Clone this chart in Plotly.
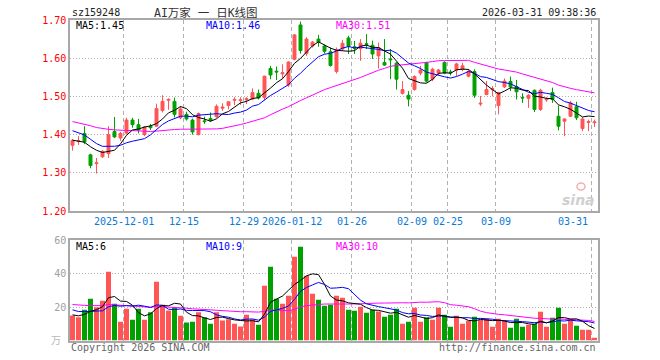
import plotly.graph_objects as go

# ---------------- data ----------------
dates = [
    "2025-11-18", "2025-11-19", "2025-11-20", "2025-11-21", "2025-11-24", "2025-11-25", "2025-11-26", "2025-11-27", "2025-11-28",
    "2025-12-01", "2025-12-02", "2025-12-03", "2025-12-04", "2025-12-05", "2025-12-08", "2025-12-09", "2025-12-10", "2025-12-11",
    "2025-12-12", "2025-12-15", "2025-12-16", "2025-12-17", "2025-12-18", "2025-12-19", "2025-12-22", "2025-12-23", "2025-12-24",
    "2025-12-25", "2025-12-26", "2025-12-29", "2025-12-30", "2025-12-31",
    "2026-01-05", "2026-01-06", "2026-01-07", "2026-01-08", "2026-01-09", "2026-01-12", "2026-01-13", "2026-01-14", "2026-01-15",
    "2026-01-16", "2026-01-19", "2026-01-20", "2026-01-21", "2026-01-22", "2026-01-23", "2026-01-26", "2026-01-27", "2026-01-28",
    "2026-01-29", "2026-01-30",
    "2026-02-02", "2026-02-03", "2026-02-04", "2026-02-05", "2026-02-06", "2026-02-09", "2026-02-10", "2026-02-11", "2026-02-12",
    "2026-02-13", "2026-02-24", "2026-02-25", "2026-02-26", "2026-02-27",
    "2026-03-02", "2026-03-03", "2026-03-04", "2026-03-05", "2026-03-06", "2026-03-09", "2026-03-10", "2026-03-11", "2026-03-12",
    "2026-03-13", "2026-03-16", "2026-03-17", "2026-03-18", "2026-03-19", "2026-03-20", "2026-03-23", "2026-03-24", "2026-03-25",
    "2026-03-26", "2026-03-27", "2026-03-30", "2026-03-31",
]

opens = [1.372, 1.382, 1.403, 1.347, 1.324, 1.342, 1.350, 1.408, 1.391, 1.404,
         1.438, 1.426, 1.400, 1.422, 1.422, 1.463, 1.490, 1.487, 1.444, 1.453,
         1.438, 1.400, 1.436, 1.442, 1.447, 1.469, 1.476, 1.490, 1.489, 1.491,
         1.493, 1.508, 1.497, 1.573, 1.566, 1.559, 1.530, 1.597, 1.687, 1.612,
         1.632, 1.650, 1.632, 1.617, 1.565, 1.624, 1.653, 1.630, 1.625, 1.638,
         1.634, 1.606, 1.589, 1.598, 1.587, 1.508, 1.503, 1.518, 1.561, 1.589,
         1.545, 1.561, 1.589, 1.564, 1.569, 1.571, 1.553, 1.565, 1.480, 1.505,
         1.518, 1.476, 1.525, 1.539, 1.526, 1.497, 1.495, 1.516, 1.466, 1.491,
         1.510, 1.448, 1.435, 1.448, 1.473, 1.416, 1.432, 1.431]
highs = [1.388, 1.396, 1.422, 1.350, 1.339, 1.360, 1.422, 1.446, 1.407, 1.444,
         1.444, 1.441, 1.422, 1.428, 1.481, 1.503, 1.495, 1.497, 1.475, 1.460,
         1.442, 1.458, 1.447, 1.458, 1.479, 1.482, 1.487, 1.498, 1.498, 1.498,
         1.521, 1.518, 1.554, 1.580, 1.578, 1.584, 1.592, 1.663, 1.696, 1.655,
         1.645, 1.661, 1.636, 1.628, 1.628, 1.648, 1.659, 1.645, 1.650, 1.663,
         1.646, 1.641, 1.650, 1.624, 1.590, 1.540, 1.514, 1.555, 1.580, 1.590,
         1.575, 1.572, 1.592, 1.570, 1.588, 1.588, 1.571, 1.571, 1.501, 1.540,
         1.527, 1.512, 1.547, 1.552, 1.543, 1.508, 1.506, 1.518, 1.520, 1.498,
         1.523, 1.476, 1.442, 1.488, 1.486, 1.446, 1.439, 1.439]
lows = [1.358, 1.373, 1.375, 1.312, 1.298, 1.339, 1.339, 1.391, 1.384, 1.400,
        1.418, 1.403, 1.396, 1.412, 1.420, 1.458, 1.465, 1.445, 1.440, 1.437,
        1.400, 1.398, 1.428, 1.433, 1.444, 1.462, 1.466, 1.477, 1.478, 1.480,
        1.490, 1.492, 1.490, 1.545, 1.543, 1.546, 1.525, 1.595, 1.612, 1.606,
        1.628, 1.630, 1.612, 1.578, 1.560, 1.620, 1.611, 1.611, 1.593, 1.624,
        1.598, 1.573, 1.580, 1.545, 1.518, 1.505, 1.474, 1.515, 1.555, 1.536,
        1.540, 1.555, 1.558, 1.555, 1.553, 1.566, 1.550, 1.496, 1.475, 1.503,
        1.500, 1.453, 1.522, 1.514, 1.492, 1.483, 1.470, 1.459, 1.462, 1.486,
        1.483, 1.411, 1.396, 1.446, 1.438, 1.409, 1.409, 1.420]
closes = [1.385, 1.384, 1.381, 1.319, 1.326, 1.356, 1.400, 1.394, 1.403, 1.438,
          1.426, 1.412, 1.420, 1.418, 1.468, 1.487, 1.492, 1.453, 1.467, 1.441,
          1.407, 1.455, 1.434, 1.437, 1.474, 1.472, 1.486, 1.492, 1.491, 1.494,
          1.510, 1.496, 1.553, 1.556, 1.564, 1.562, 1.590, 1.661, 1.620, 1.650,
          1.642, 1.641, 1.618, 1.581, 1.622, 1.639, 1.631, 1.626, 1.639, 1.636,
          1.611, 1.628, 1.582, 1.596, 1.545, 1.518, 1.493, 1.552, 1.569, 1.540,
          1.571, 1.569, 1.561, 1.562, 1.585, 1.580, 1.565, 1.503, 1.482, 1.518,
          1.520, 1.510, 1.540, 1.525, 1.512, 1.496, 1.503, 1.466, 1.516, 1.493,
          1.492, 1.422, 1.441, 1.483, 1.444, 1.441, 1.434, 1.433]
volumes = [15.0, 14.0, 18.4, 25.0, 20.0, 23.8, 41.2, 22.0, 11.2, 19.0,
           12.4, 19.0, 12.4, 17.0, 35.2, 21.4, 18.0, 20.0, 14.8, 10.8,
           11.2, 17.0, 14.0, 10.0, 17.0, 12.0, 12.8, 10.0, 8.4, 15.4,
           12.8, 9.4, 32.8, 44.2, 25.0, 22.0, 26.8, 50.2, 56.2, 38.8,
           28.0, 24.4, 20.8, 21.4, 26.8, 25.6, 18.4, 17.8, 20.2, 16.6,
           18.4, 17.4, 14.2, 15.4, 19.0, 10.0, 11.2, 19.6, 11.2, 14.0,
           12.4, 19.6, 15.4, 8.2, 14.8, 10.0, 11.8, 14.2, 12.4, 13.0,
           8.2, 13.0, 12.0, 7.6, 13.0, 8.2, 9.4, 10.0, 17.2, 8.2,
           13.6, 19.6, 10.0, 13.0, 8.8, 6.4, 6.4, 1.6]

# closes / volumes before the visible window (estimated, only feed the moving averages)
prior_closes = [1.478, 1.470, 1.462, 1.468, 1.452, 1.445, 1.438, 1.447, 1.441, 1.433,
                1.440, 1.436, 1.445, 1.438, 1.430, 1.442, 1.437, 1.444, 1.436, 1.439,
                1.441, 1.436, 1.432, 1.438, 1.428, 1.402, 1.390, 1.378, 1.372]
prior_volumes = [26, 22, 30, 19, 24, 21, 28, 18, 25, 22, 20, 27, 23, 19, 26, 24, 21, 25, 22, 22,
                 24, 19, 23, 20, 21, 17, 14, 16, 15]

tick_dates = ["2025-12-01", "2025-12-15", "2025-12-29", "2026-01-12", "2026-01-26",
              "2026-02-09", "2026-02-25", "2026-03-09", "2026-03-31"]
tick_labels = ["2025-12-01", "12-15", "12-29", "2026-01-12", "01-26",
               "02-09", "02-25", "03-09", "03-31"]
price_ticks = [1.20, 1.30, 1.40, 1.50, 1.60, 1.70]
volume_ticks = [20, 40, 60]
vol_ma_labels = ["MA5:6", "MA10:9", "MA30:10"]

title_text = "AI万家 一 日K线图"
code_text = "sz159248"
time_text = "2026-03-31 09:38:36"

# ---------------- helpers ----------------
def sma(values, prior, n):
    full = list(prior) + list(values)
    off = len(prior)
    out = []
    for i in range(len(values)):
        j = off + i
        window = full[max(0, j - n + 1): j + 1]
        out.append(sum(window) / len(window))
    return out

RED = "#ff5555"
GREEN = "#00a000"
MONO = "DejaVu Sans Mono, Liberation Mono, Noto Sans CJK SC, monospace"

n = len(dates)
xi = list(range(n))
ma5 = sma(closes, prior_closes, 5)
ma10 = sma(closes, prior_closes, 10)
ma30 = sma(closes, prior_closes, 30)
vma5 = sma(volumes, prior_volumes, 5)
vma10 = sma(volumes, prior_volumes, 10)
vma30 = sma(volumes, prior_volumes, 30)

tick_pos = [dates.index(d) - 0.42 for d in tick_dates]
vol_colors = [RED if c >= o else GREEN for o, c in zip(opens, closes)]

fig = go.Figure()
fig.add_trace(go.Candlestick(
    x=xi, open=opens, high=highs, low=lows, close=closes,
    increasing=dict(line=dict(color=RED, width=1), fillcolor=RED),
    decreasing=dict(line=dict(color=GREEN, width=1), fillcolor=GREEN),
    whiskerwidth=0, xaxis="x", yaxis="y", hoverinfo="skip"))
for ma, col in [(ma30, "#ff00ff"), (ma10, "#0000ff"), (ma5, "#000000")]:
    fig.add_trace(go.Scatter(x=xi, y=ma, mode="lines", line=dict(color=col, width=1),
                             xaxis="x", yaxis="y", hoverinfo="skip"))

fig.add_trace(go.Bar(x=xi, y=volumes, marker=dict(color=vol_colors, line=dict(width=0)),
                     xaxis="x2", yaxis="y2", hoverinfo="skip"))
for ma, col in [(vma30, "#ff00ff"), (vma10, "#0000ff"), (vma5, "#000000")]:
    fig.add_trace(go.Scatter(x=xi, y=ma, mode="lines", line=dict(color=col, width=1),
                             xaxis="x2", yaxis="y2", hoverinfo="skip"))

W, H = 660, 360
xdom = [70 / W, 598 / W]
xr = [-2.5 / 6, -2.5 / 6 + 528 / 6]
axis_line = dict(showline=True, mirror=True, linecolor="#a8a8a8", linewidth=1.5, zeroline=False,
                 automargin=False)

xcommon = dict(domain=xdom, range=xr, tickvals=tick_pos, showticklabels=False, ticks="",
               showgrid=True, gridcolor="#b0b0b0", gridwidth=1, griddash="4px,3px", **axis_line)

fig.update_layout(
    width=W, height=H, margin=dict(l=0, r=0, t=0, b=0, pad=0, autoexpand=False),
    paper_bgcolor="white", plot_bgcolor="white", showlegend=False,
    bargap=1 / 6,
    xaxis=dict(anchor="y", rangeslider=dict(visible=False), **xcommon),
    xaxis2=dict(anchor="y2", **xcommon),
    yaxis=dict(domain=[1 - 211 / H, 1 - 20 / H], range=[1.20, 1.70], anchor="x",
               tickvals=price_ticks, ticktext=[f"{v:.2f}" for v in price_ticks],
               tickfont=dict(family=MONO, size=10, color="#ff0000"), ticks="",
               showgrid=True, gridcolor="#b0b0b0", griddash="1px,2px", gridwidth=1, **axis_line),
    yaxis2=dict(domain=[1 - 340.5 / H, 1 - 240 / H], range=[0, 60.3], anchor="x2",
                tickvals=volume_ticks, ticktext=[str(v) for v in volume_ticks],
                tickfont=dict(family=MONO, size=10, color="#a0a0a0"), ticks="",
                showgrid=True, gridcolor="#b0b0b0", griddash="1px,2px", gridwidth=1, **axis_line),
)

ann = []
def px_x(p):
    return p / W
def px_y(p):
    return 1 - p / H

ann.append(dict(x=px_x(70), y=px_y(13), text=code_text, xanchor="left", yanchor="middle",
                font=dict(family=MONO, size=10, color="#222")))
ann.append(dict(x=px_x(206), y=px_y(13), text=title_text, xanchor="center", yanchor="middle",
                font=dict(family=MONO, size=11.5, color="#333")))
ann.append(dict(x=px_x(598), y=px_y(13), text=time_text, xanchor="right", yanchor="middle",
                font=dict(family=MONO, size=10, color="#222")))

ann.append(dict(x=px_x(74), y=px_y(26), text=f"MA5:{ma5[-1]:.2f}", xanchor="left", yanchor="middle",
                font=dict(family=MONO, size=10, color="#000")))
ann.append(dict(x=px_x(204), y=px_y(26), text=f"MA10:{ma10[-1]:.2f}", xanchor="left", yanchor="middle",
                font=dict(family=MONO, size=10, color="#0000ff")))
ann.append(dict(x=px_x(334), y=px_y(26), text=f"MA30:{ma30[-1]:.2f}", xanchor="left", yanchor="middle",
                font=dict(family=MONO, size=10, color="#ff00ff")))

for xp, t, c in zip([74, 204, 334], vol_ma_labels, ["#000", "#0000ff", "#ff00ff"]):
    ann.append(dict(x=px_x(xp), y=px_y(246), text=t, xanchor="left", yanchor="middle",
                    font=dict(family=MONO, size=10, color=c)))

for i, (p, t) in enumerate(zip(tick_pos, tick_labels)):
    last = i == len(tick_labels) - 1
    ann.append(dict(x=p if not last else p - 0.3, y=px_y(221), xref="x", yref="paper", text=t,
                    xanchor="right" if last else "center", yanchor="middle",
                    font=dict(family=MONO, size=10, color="#0a7ad6")))

ann.append(dict(x=px_x(56), y=px_y(340), text="万", xanchor="center", yanchor="middle",
                font=dict(family=MONO, size=10, color="#b8b8b8")))
ann.append(dict(x=px_x(69), y=px_y(347), text="Copyright 2026 SINA.COM", xanchor="left", yanchor="middle",
                font=dict(family=MONO, size=10, color="#666")))
ann.append(dict(x=px_x(598), y=px_y(347), text="http://finance.sina.com.cn", xanchor="right", yanchor="middle",
                font=dict(family=MONO, size=10, color="#666")))
ann.append(dict(x=px_x(597), y=px_y(200), text="<b><i>sina</i></b>", xanchor="right", yanchor="middle",
                font=dict(family="DejaVu Sans, sans-serif", size=14, color="#cfcfcf")))

for a in ann:
    a.setdefault("xref", "paper")
    a.setdefault("yref", "paper")
    a["showarrow"] = False
fig.update_layout(annotations=ann)

# faint logo "eye" above the watermark
fig.add_shape(type="circle", xref="paper", yref="paper",
              x0=px_x(577), x1=px_x(585), y0=px_y(190), y1=px_y(183),
              line=dict(color="#f0b0b0", width=1.5), fillcolor="rgba(255,255,255,0)")

fig.write_html("out.html", config={"displayModeBar": False},
               post_script="document.body.style.margin='0';document.body.style.padding='0';")
